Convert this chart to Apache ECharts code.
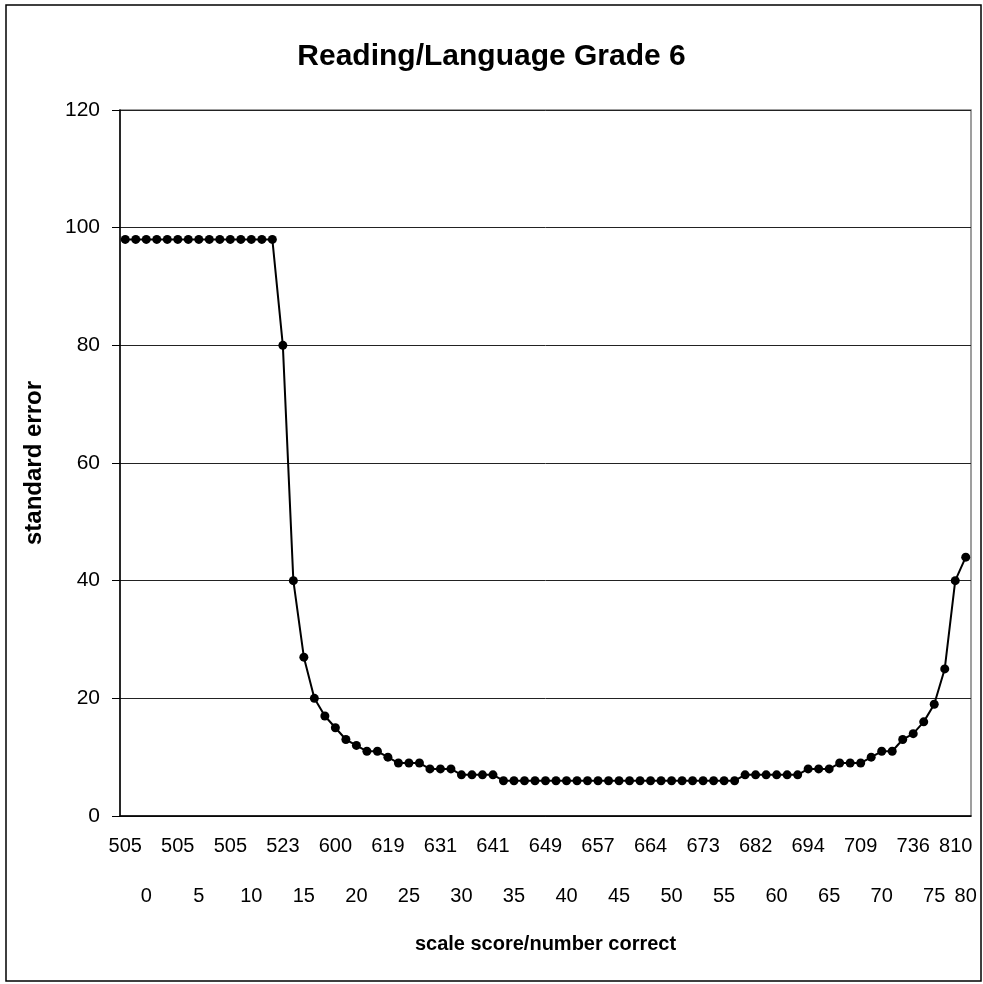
<!DOCTYPE html>
<html>
<head>
<meta charset="utf-8">
<title>Reading/Language Grade 6</title>
<script src="https://cdn.jsdelivr.net/npm/echarts@6/dist/echarts.min.js"></script>
<style>
  html, body { margin: 0; padding: 0; background: #fff; }
  #main { width: 983px; height: 984px; }
</style>
</head>
<body>
<div id="main"></div>
<script type="text/javascript">
    // number correct (one point per raw score)
    var numberCorrect = [
        0, 1, 2, 3, 4, 5, 6, 7, 8, 9, 10, 11, 12, 13, 14, 15, 16, 17, 18, 19, 20,
        21, 22, 23, 24, 25, 26, 27, 28, 29, 30, 31, 32, 33, 34, 35, 36, 37, 38, 39, 40,
        41, 42, 43, 44, 45, 46, 47, 48, 49, 50, 51, 52, 53, 54, 55, 56, 57, 58, 59, 60,
        61, 62, 63, 64, 65, 66, 67, 68, 69, 70, 71, 72, 73, 74, 75, 76, 77, 78, 79, 80
    ];
    // scale score shown at every 5th point
    var scaleLabels = [505, 505, 505, 523, 600, 619, 631, 641, 649, 657, 664, 673, 682, 694, 709, 736, 810];
    // standard error
    var stdError = [
        98, 98, 98, 98, 98, 98, 98, 98, 98, 98, 98, 98, 98, 98, 98,
        80, 40, 27, 20, 17, 15, 13, 12, 11, 11, 10, 9, 9, 9, 8, 8, 8,
        7, 7, 7, 7,
        6, 6, 6, 6, 6, 6, 6, 6, 6, 6, 6, 6, 6, 6, 6, 6, 6, 6, 6, 6, 6, 6, 6,
        7, 7, 7, 7, 7, 7,
        8, 8, 8,
        9, 9, 9,
        10, 11, 11, 13, 14, 16, 19, 25, 40, 44
    ];
    var yTicks = [0, 20, 40, 60, 80, 100, 120];

    var font = "'Liberation Sans', Arial, sans-serif";
    var last = numberCorrect.length - 1;
    var myChart = echarts.init(document.getElementById('main'));
    var option = {
        animation: false,
        textStyle: { fontFamily: font },
        title: {
            text: 'Reading/Language Grade 6',
            left: 'center',
            top: 37,
            textStyle: { fontFamily: font, fontSize: 30, fontWeight: 'bold', color: '#000' }
        },
        graphic: [{
            type: 'rect',
            shape: { x: 6, y: 5, width: 975, height: 976 },
            style: { fill: null, stroke: '#000', lineWidth: 1.5 },
            silent: true
        }],
        grid: {
            left: 120, right: 12, top: 110, bottom: 168,
            show: true, borderColor: '#808080', borderWidth: 1.5
        },
        xAxis: [
            {
                type: 'category',
                data: numberCorrect,
                boundaryGap: true,
                position: 'bottom',
                name: 'scale score/number correct',
                nameLocation: 'middle',
                nameGap: 118,
                nameTextStyle: { fontFamily: font, fontSize: 20, fontWeight: 'bold', color: '#000' },
                axisLine: { lineStyle: { color: '#000', width: 1.5 } },
                axisTick: { show: false },
                axisLabel: {
                    interval: 4,
                    margin: 20,
                    fontSize: 20,
                    color: '#000',
                    fontFamily: font,
                    formatter: function (v, i) {
                        var s = String(scaleLabels[i / 5]);
                        return i === last ? '{e|' + s + '}' : s;
                    },
                    rich: {
                        e: { fontSize: 20, fontFamily: font, color: '#000', padding: [0, 20, 0, 0] }
                    }
                },
                splitLine: { show: false }
            },
            {
                type: 'category',
                data: numberCorrect,
                boundaryGap: true,
                position: 'bottom',
                offset: 50,
                axisLine: { show: false },
                axisTick: { show: false },
                axisLabel: {
                    interval: 4,
                    margin: 20,
                    fontSize: 20,
                    color: '#000',
                    fontFamily: font,
                    formatter: function (v, i) {
                        return i === last ? '{e|' + v + '}' : '{n|' + v + '}';
                    },
                    rich: {
                        n: { fontSize: 20, fontFamily: font, color: '#000', padding: [0, 0, 0, 42] },
                        e: { fontSize: 20, fontFamily: font, color: '#000' }
                    }
                }
            }
        ],
        yAxis: {
            type: 'value',
            min: yTicks[0],
            max: yTicks[yTicks.length - 1],
            interval: 20,
            name: 'standard error',
            nameLocation: 'middle',
            nameGap: 74,
            nameTextStyle: { fontFamily: font, fontSize: 24, fontWeight: 'bold', color: '#000' },
            axisLine: { show: true, lineStyle: { color: '#000', width: 1.5 } },
            axisTick: { show: true, inside: false, length: 8, lineStyle: { color: '#000' } },
            axisLabel: { fontSize: 21, color: '#000', margin: 20, fontFamily: font },
            splitLine: { lineStyle: { color: '#222', width: 1 } }
        },
        series: [
            {
                name: 'standard error',
                type: 'line',
                data: stdError,
                symbol: 'circle',
                symbolSize: 9,
                showAllSymbol: true,
                lineStyle: { color: '#000', width: 2 },
                itemStyle: { color: '#000' }
            }
        ]
    };

    myChart.setOption(option);
</script>
</body>
</html>
